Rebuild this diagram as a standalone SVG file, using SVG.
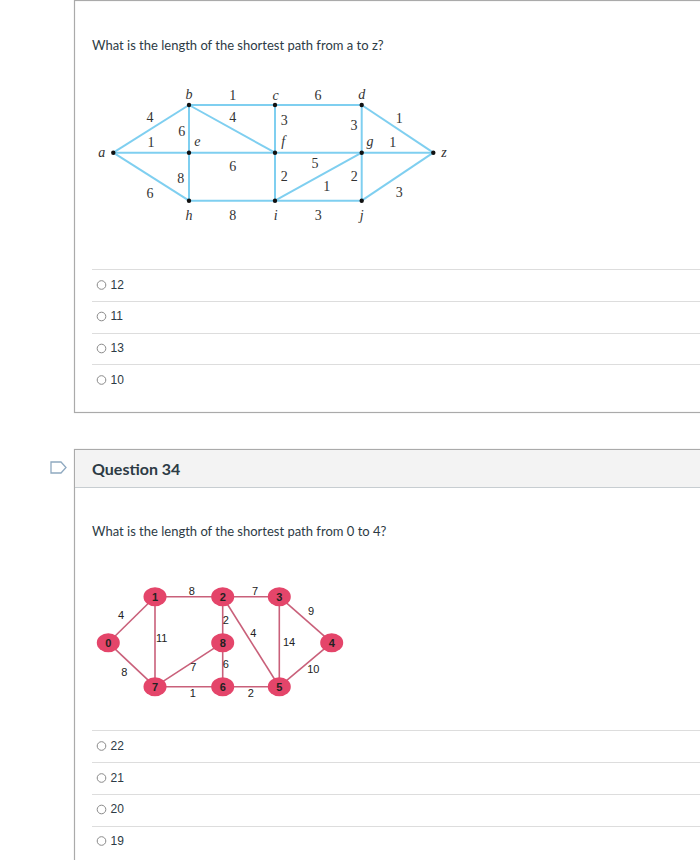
<svg xmlns="http://www.w3.org/2000/svg" width="700" height="860" viewBox="0 0 700 860">
<style>
.q{font-family:Lato,"Liberation Sans",sans-serif;font-size:13px;fill:#2d3b45}
.opt{font-family:"Liberation Sans",Arial,sans-serif;font-size:12px;fill:#2d3b45}
.sep{stroke:#dddddd;stroke-width:1}
.radio{fill:#fff;stroke:#8a8a8a;stroke-width:1}
.e1{stroke:#7fcff0;stroke-width:2;fill:none}
.t1{font-family:"Liberation Serif","Times New Roman",serif;font-size:14px;fill:#333;text-anchor:middle;dominant-baseline:central}
.t1i{font-style:italic}
.dot{fill:#111}
.e2{stroke:#c9607a;stroke-width:1.6;fill:none}
.n2{fill:#e4456a}
.t2{font-family:"Liberation Sans",Arial,sans-serif;font-size:11px;fill:#222;text-anchor:middle;dominant-baseline:central}
.tn{font-weight:bold;font-size:11px}
</style>
<rect width="700" height="860" fill="#fff"/>
<!-- Question 33 box -->
<rect x="74.5" y="0.5" width="640" height="412" fill="#fff" stroke="#aaaaaa" stroke-width="1.2"/>
<text class="q" x="92" y="50">What is the length of the shortest path from a to z?</text>
<!-- Graph 1 -->
<g id="edges1">
<line class="e1" x1="113.3" y1="152.7" x2="433.3" y2="152.7"/>
<line class="e1" x1="113.3" y1="152.7" x2="189" y2="105"/>
<line class="e1" x1="113.3" y1="152.7" x2="189" y2="200.7"/>
<line class="e1" x1="189" y1="105" x2="361.7" y2="105"/>
<line class="e1" x1="361.7" y1="105" x2="433.3" y2="152.7"/>
<line class="e1" x1="189" y1="105" x2="189" y2="200.7"/>
<line class="e1" x1="189" y1="105" x2="275" y2="152.7"/>
<line class="e1" x1="275" y1="105" x2="275" y2="200.7"/>
<line class="e1" x1="361.7" y1="105" x2="361.7" y2="200.7"/>
<line class="e1" x1="189" y1="200.7" x2="361.7" y2="200.7"/>
<line class="e1" x1="275" y1="200.7" x2="361.7" y2="152.7"/>
<line class="e1" x1="361.7" y1="200.7" x2="433.3" y2="152.7"/>
</g>
<g id="node-a"><circle class="dot" cx="113.3" cy="152.7" r="2.2"/><text class="t1 t1i" x="101.7" y="152.7">a</text></g>
<g id="node-b"><circle class="dot" cx="189" cy="105" r="2.2"/><text class="t1 t1i" x="189" y="94">b</text></g>
<g id="node-c"><circle class="dot" cx="275" cy="105" r="2.2"/><text class="t1 t1i" x="275.7" y="95">c</text></g>
<g id="node-d"><circle class="dot" cx="361.7" cy="105" r="2.2"/><text class="t1 t1i" x="361.7" y="94">d</text></g>
<g id="node-e"><circle class="dot" cx="189" cy="152.7" r="2.2"/><text class="t1 t1i" x="197.3" y="141.7">e</text></g>
<g id="node-f"><circle class="dot" cx="275" cy="152.7" r="2.2"/><text class="t1 t1i" x="283.3" y="141.7">f</text></g>
<g id="node-g"><circle class="dot" cx="361.7" cy="152.7" r="2.2"/><text class="t1 t1i" x="370" y="141.7">g</text></g>
<g id="node-z"><circle class="dot" cx="433.3" cy="152.7" r="2.2"/><text class="t1 t1i" x="444" y="152.7">z</text></g>
<g id="node-h"><circle class="dot" cx="189" cy="200.7" r="2.2"/><text class="t1 t1i" x="189" y="215">h</text></g>
<g id="node-i"><circle class="dot" cx="275" cy="200.7" r="2.2"/><text class="t1 t1i" x="275.7" y="215">i</text></g>
<g id="node-j"><circle class="dot" cx="361.7" cy="200.7" r="2.2"/><text class="t1 t1i" x="361.7" y="215">j</text></g>
<g id="weights1">
<text class="t1" x="232.7" y="95">1</text>
<text class="t1" x="318" y="95">6</text>
<text class="t1" x="150" y="117.3">4</text>
<text class="t1" x="232.7" y="117">4</text>
<text class="t1" x="284.3" y="120.7">3</text>
<text class="t1" x="354" y="125">3</text>
<text class="t1" x="399.3" y="118.3">1</text>
<text class="t1" x="181.7" y="131.7">6</text>
<text class="t1" x="151" y="142.3">1</text>
<text class="t1" x="392.7" y="142">1</text>
<text class="t1" x="232.7" y="166.7">6</text>
<text class="t1" x="315" y="163.3">5</text>
<text class="t1" x="180.7" y="178.3">8</text>
<text class="t1" x="284.3" y="176.7">2</text>
<text class="t1" x="354.3" y="176.7">2</text>
<text class="t1" x="326.7" y="186.7">1</text>
<text class="t1" x="150" y="193.3">6</text>
<text class="t1" x="399.3" y="192.7">3</text>
<text class="t1" x="232.7" y="215">8</text>
<text class="t1" x="318.3" y="215">3</text>
</g>
<g id="options1">
<line class="sep" x1="92" y1="269.5" x2="700" y2="269.5"/>
<circle class="radio" cx="101.5" cy="285" r="4.3"/><text class="opt" x="110.5" y="288.5">12</text>
<line class="sep" x1="92" y1="301.5" x2="700" y2="301.5"/>
<circle class="radio" cx="101.5" cy="316.5" r="4.3"/><text class="opt" x="110.5" y="320">11</text>
<line class="sep" x1="92" y1="333.5" x2="700" y2="333.5"/>
<circle class="radio" cx="101.5" cy="348.5" r="4.3"/><text class="opt" x="110.5" y="352">13</text>
<line class="sep" x1="92" y1="364.5" x2="700" y2="364.5"/>
<circle class="radio" cx="101.5" cy="380" r="4.3"/><text class="opt" x="110.5" y="383.5">10</text>
</g>
<!-- Question 34 -->
<path d="M51,462 H61 L66,467.5 L61,473 H51 Z" fill="none" stroke="#8fa9c0" stroke-width="1.3"/>
<rect x="74.5" y="449.5" width="640" height="420" fill="#fff" stroke="#aaaaaa" stroke-width="1.2"/>
<rect x="75" y="450" width="640" height="37" fill="#f3f3f3"/>
<line x1="75" y1="487.5" x2="700" y2="487.5" stroke="#c7cdd1" stroke-width="1"/>
<text x="92" y="475" font-family="Lato,'Liberation Sans',sans-serif" font-size="16" font-weight="bold" fill="#2d3b45">Question 34</text>
<text class="q" x="92" y="536">What is the length of the shortest path from 0 to 4?</text>
<!-- Graph 2 -->
<g id="edges2">
<line class="e2" x1="108.3" y1="642.7" x2="155" y2="596.7"/>
<line class="e2" x1="108.3" y1="642.7" x2="155" y2="686.7"/>
<line class="e2" x1="155" y1="596.7" x2="279.3" y2="596.7"/>
<line class="e2" x1="155" y1="596.7" x2="155" y2="686.7"/>
<line class="e2" x1="222.7" y1="596.7" x2="222.7" y2="686.7"/>
<line class="e2" x1="222.7" y1="596.7" x2="279.3" y2="686.7"/>
<line class="e2" x1="279.3" y1="596.7" x2="331.7" y2="642.7"/>
<line class="e2" x1="279.3" y1="596.7" x2="279.3" y2="686.7"/>
<line class="e2" x1="331.7" y1="642.7" x2="279.3" y2="686.7"/>
<line class="e2" x1="222.7" y1="642.7" x2="155" y2="686.7"/>
<line class="e2" x1="155" y1="686.7" x2="279.3" y2="686.7"/>
</g>
<g id="n0"><ellipse class="n2" cx="108.3" cy="642.7" rx="11.5" ry="9.5"/><text class="t2 tn" x="108.3" y="643">0</text></g>
<g id="n1"><ellipse class="n2" cx="155" cy="596.7" rx="11.5" ry="9.5"/><text class="t2 tn" x="155" y="597">1</text></g>
<g id="n2"><ellipse class="n2" cx="222.7" cy="596.7" rx="11.5" ry="9.5"/><text class="t2 tn" x="222.7" y="597">2</text></g>
<g id="n3"><ellipse class="n2" cx="279.3" cy="596.7" rx="11.5" ry="9.5"/><text class="t2 tn" x="279.3" y="597">3</text></g>
<g id="n4"><ellipse class="n2" cx="331.7" cy="642.7" rx="11.5" ry="9.5"/><text class="t2 tn" x="331.7" y="643">4</text></g>
<g id="n8"><ellipse class="n2" cx="222.7" cy="642.7" rx="11.5" ry="9.5"/><text class="t2 tn" x="222.7" y="643">8</text></g>
<g id="n7"><ellipse class="n2" cx="155" cy="686.7" rx="11.5" ry="9.5"/><text class="t2 tn" x="155" y="687">7</text></g>
<g id="n6"><ellipse class="n2" cx="222.7" cy="686.7" rx="11.5" ry="9.5"/><text class="t2 tn" x="222.7" y="687">6</text></g>
<g id="n5"><ellipse class="n2" cx="279.3" cy="686.7" rx="11.5" ry="9.5"/><text class="t2 tn" x="279.3" y="687">5</text></g>
<g id="weights2">
<text class="t2" x="191.7" y="590.7">8</text>
<text class="t2" x="255" y="590.7">7</text>
<text class="t2" x="121" y="615">4</text>
<text class="t2" x="311" y="610.7">9</text>
<text class="t2" x="225.7" y="620">2</text>
<text class="t2" x="253.3" y="633.3">4</text>
<text class="t2" x="161.7" y="638.3">11</text>
<text class="t2" x="289" y="641.7">14</text>
<text class="t2" x="193.3" y="667.3">7</text>
<text class="t2" x="225.7" y="664.3">6</text>
<text class="t2" x="313.3" y="669.3">10</text>
<text class="t2" x="124.3" y="671.7">8</text>
<text class="t2" x="192.7" y="693.3">1</text>
<text class="t2" x="250.7" y="693.3">2</text>
</g>
<g id="options2">
<line class="sep" x1="92" y1="730.5" x2="700" y2="730.5"/>
<circle class="radio" cx="101.5" cy="746" r="4.3"/><text class="opt" x="110.5" y="749.5">22</text>
<line class="sep" x1="92" y1="762.5" x2="700" y2="762.5"/>
<circle class="radio" cx="101.5" cy="778" r="4.3"/><text class="opt" x="110.5" y="781.5">21</text>
<line class="sep" x1="92" y1="794.5" x2="700" y2="794.5"/>
<circle class="radio" cx="101.5" cy="809.5" r="4.3"/><text class="opt" x="110.5" y="813">20</text>
<line class="sep" x1="92" y1="826.5" x2="700" y2="826.5"/>
<circle class="radio" cx="101.5" cy="841" r="4.3"/><text class="opt" x="110.5" y="844.5">19</text>
</g>
</svg>
